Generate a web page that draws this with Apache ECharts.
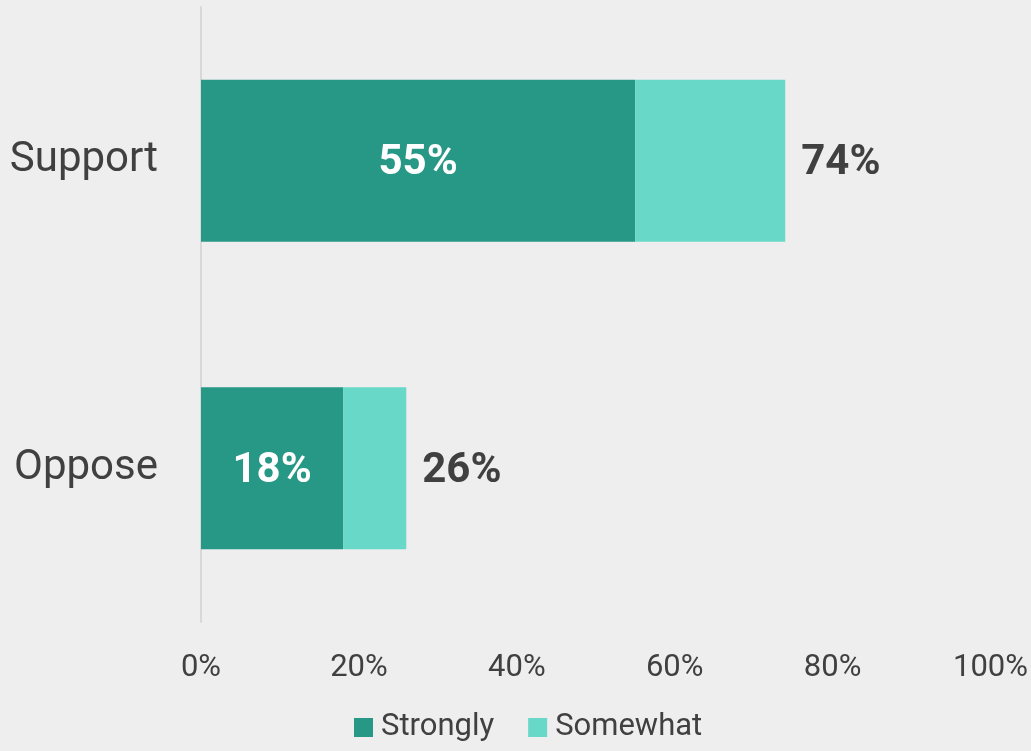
<!DOCTYPE html>
<html>
<head>
<meta charset="utf-8">
<script src="https://cdn.jsdelivr.net/npm/echarts@6/dist/echarts.min.js"></script>
<style>
  html, body { margin: 0; padding: 0; background: #eeeeee; }
  #chart { width: 1031px; height: 751px; }
</style>
</head>
<body>
<div id="chart"></div>
<script>
// Share of respondents by position and intensity (percent)
const categories = ['Support', 'Oppose'];
const strongly = [55, 18];
const somewhat = [19, 8];
const tickValues = [0, 20, 40, 60, 80, 100];

const totals = categories.map((_, i) => strongly[i] + somewhat[i]);
const FONT = 'Roboto, "Liberation Sans", sans-serif';
const TEXT = '#404040';

const chart = echarts.init(document.getElementById('chart'), null, { renderer: 'canvas' });

chart.setOption({
  backgroundColor: '#eeeeee',
  animation: false,
  textStyle: { fontFamily: FONT },
  grid: { left: 201, right: 40, top: 7, bottom: 129, containLabel: false },
  legend: {
    left: 354,
    bottom: 8,
    padding: 0,
    itemWidth: 19,
    itemHeight: 19,
    itemGap: 34,
    icon: 'rect',
    textStyle: { fontFamily: FONT, fontSize: 31, color: TEXT, padding: [0, 0, 0, 3] },
    data: ['Strongly', 'Somewhat']
  },
  xAxis: {
    type: 'value',
    min: tickValues[0],
    max: tickValues[tickValues.length - 1],
    interval: tickValues[1] - tickValues[0],
    axisLine: { show: false },
    axisTick: { show: false },
    splitLine: { show: false },
    axisLabel: {
      formatter: '{value}%',
      fontFamily: FONT,
      fontSize: 31,
      color: TEXT,
      margin: 31
    }
  },
  yAxis: {
    type: 'category',
    inverse: true,
    data: categories,
    axisLine: { show: true, lineStyle: { color: '#d8d8d8', width: 2 } },
    axisTick: { show: false },
    axisLabel: { fontFamily: FONT, fontSize: 42, color: TEXT, margin: 43 }
  },
  series: [
    {
      name: 'Strongly',
      type: 'bar',
      stack: 'total',
      barWidth: 162,
      data: strongly,
      itemStyle: { color: '#279786' },
      label: {
        show: true,
        position: 'inside',
        offset: [0, 3],
        formatter: '{c}%',
        fontFamily: FONT,
        fontSize: 42,
        fontWeight: 'bold',
        color: '#ffffff'
      }
    },
    {
      name: 'Somewhat',
      type: 'bar',
      stack: 'total',
      barWidth: 162,
      data: somewhat,
      itemStyle: { color: '#68d8c8' },
      label: {
        show: true,
        position: 'right',
        distance: 16,
        offset: [0, 3],
        formatter: p => totals[p.dataIndex] + '%',
        fontFamily: FONT,
        fontSize: 42,
        fontWeight: 'bold',
        color: TEXT
      }
    }
  ]
});
</script>
</body>
</html>
